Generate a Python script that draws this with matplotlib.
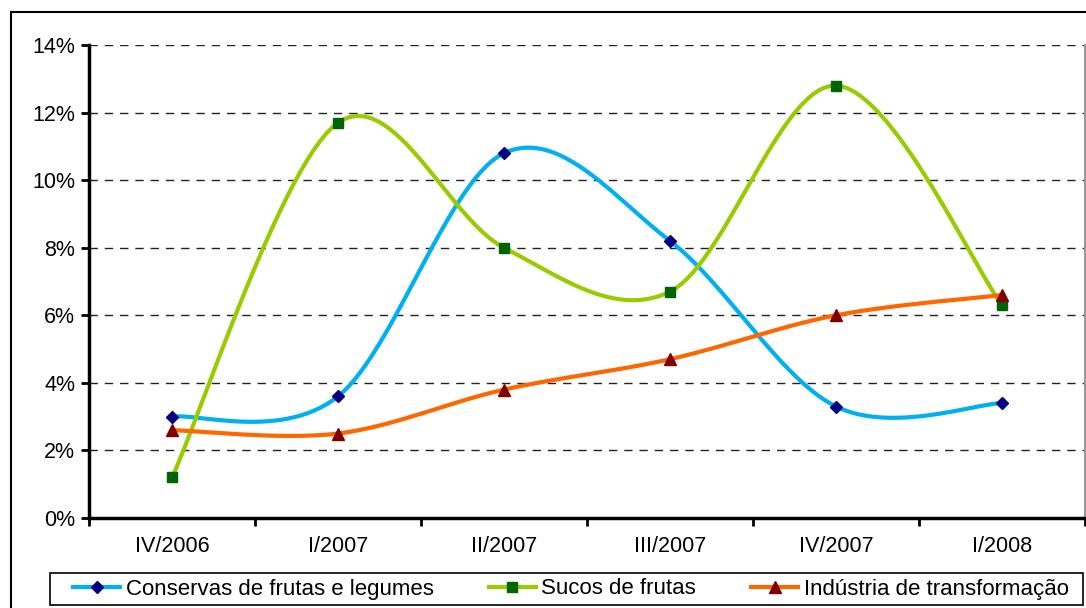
import numpy as np
import matplotlib.pyplot as plt
from matplotlib.patches import Rectangle

# quarters and growth rates (%)
quarters = ["IV/2006", "I/2007", "II/2007", "III/2007", "IV/2007", "I/2008"]
conservas = [3.0, 3.6, 10.8, 8.2, 3.3, 3.4]
sucos = [1.2, 11.7, 8.0, 6.7, 12.8, 6.3]
industria = [2.6, 2.5, 3.8, 4.7, 6.0, 6.6]

plt.rcParams['font.family'] = ['Liberation Sans', 'DejaVu Sans']


def smooth(x, y, n=30):
    # Excel-like smoothed line: Catmull-Rom through the points as cubic Bezier segments
    p = np.column_stack([x, y]).astype(float)
    pp = np.vstack([p[0], p, p[-1]])
    t = np.linspace(0, 1, n)[:, None]
    out = []
    for i in range(len(p) - 1):
        p0, p1, p2, p3 = pp[i], pp[i + 1], pp[i + 2], pp[i + 3]
        b1 = p1 + (p2 - p0) / 6
        b2 = p2 - (p3 - p1) / 6
        seg = (1 - t) ** 3 * p1 + 3 * (1 - t) ** 2 * t * b1 + 3 * (1 - t) * t ** 2 * b2 + t ** 3 * p2
        out.append(seg if i == 0 else seg[1:])
    out = np.vstack(out)
    return out[:, 0], out[:, 1]


fig = plt.figure(figsize=(10.86, 6.08), dpi=100)
ax = fig.add_axes([89 / 1086, 90 / 608, 996 / 1086, 473 / 608])

x = np.arange(len(quarters))
series = [
    (conservas, "Conservas de frutas e legumes", "#00B0F0", "D", "#000080", 6.5),
    (sucos, "Sucos de frutas", "#99CC00", "s", "#006400", 7),
    (industria, "Indústria de transformação", "#FF6600", "^", "#800000", 8.5),
]
for vals, name, col, mk, mcol, ms in series:
    sx, sy = smooth(x, vals)
    ax.plot(sx, sy, color=col, lw=3, zorder=3)
    ax.plot(x, vals, ls='none', marker=mk, ms=ms, mfc=mcol, mec=mcol, zorder=4)
    ax.plot([], [], color=col, lw=3, marker=mk, ms=ms, mfc=mcol, mec=mcol, label=name)

ax.set_xlim(-0.5, len(quarters) - 0.5)
ax.set_ylim(0, 14)
ax.set_yticks(np.arange(0, 15, 2))
ax.set_yticklabels([f"{v}%" for v in range(0, 15, 2)])
ax.set_xticks(x)
ax.set_xticklabels(quarters)
ax.set_xticks(np.arange(-0.5, len(quarters)), minor=True)
ax.tick_params(axis='x', which='major', length=0, pad=13, labelsize=15.5)
ax.tick_params(axis='x', which='minor', length=6, width=2, direction='out')
ax.tick_params(axis='y', length=6, width=2, pad=4, labelsize=15.5)

for v in range(2, 15, 2):
    ax.axhline(v, color='#222222', lw=1, ls=(0, (6, 5)), zorder=1)

ax.spines['top'].set_visible(False)
ax.spines['right'].set_color('#999999')
ax.spines['right'].set_linewidth(1.5)
ax.spines['left'].set_linewidth(2.5)
ax.spines['bottom'].set_linewidth(2.5)

# outer chart frame (cut off at right and bottom like the source)
fig.patches.append(Rectangle((11 / 1086, -0.1), 1.2, 0.1 + 596 / 608, transform=fig.transFigure,
                             fill=False, edgecolor='black', lw=1.5, clip_on=False))

# legend frame drawn separately so the side padding can be wider than the vertical one
fig.patches.append(Rectangle((50 / 1086, 3 / 608), 1033 / 1086, 32 / 608, transform=fig.transFigure,
                             fill=False, edgecolor='black', lw=1.2))
fig.legend(loc='center', bbox_to_anchor=(571 / 1086, 1 - 589 / 608), ncol=3,
           fontsize=16, frameon=False, handlelength=2.1, columnspacing=2.5,
           handletextpad=0.25, borderpad=0.2)

fig.savefig("out.png", dpi=100)
